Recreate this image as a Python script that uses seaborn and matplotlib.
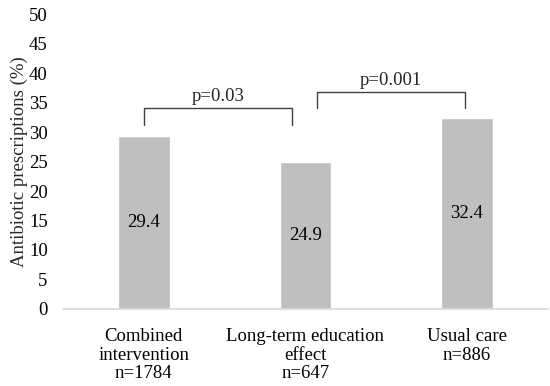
import numpy as np
import pandas as pd
import matplotlib
matplotlib.use('Agg')
import matplotlib.pyplot as plt
import seaborn as sns

# Data
groups = ['Combined\nintervention\nn=1784', 'Long-term education\neffect\nn=647', 'Usual care\nn=886']
values = [29.4, 24.9, 32.4]
y_ticks = list(range(0, 51, 5))

# p-value brackets: (left x, right x, top, leg bottom, label)
brackets = [(0.0, 0.92, 34.1, 31.2, 'p=0.03'), (1.07, 1.99, 36.8, 34.1, 'p=0.001')]

sns.set_style('white')
plt.rcParams['font.family'] = ['Liberation Serif', 'DejaVu Serif']
fs = 13.5

df = pd.DataFrame({'group': groups, 'value': values})

fig = plt.figure(figsize=(5.5, 3.86), dpi=100)
ax = fig.add_axes([0.1145, 0.1995, 0.8815, 0.7642])
sns.barplot(data=df, x='group', y='value', color='#bfbfbf', saturation=1, width=0.32, ax=ax)

for c in ax.containers:
    ax.bar_label(c, labels=[f'{v:.1f}' for v in values], label_type='center', fontsize=fs, color='black')

# brackets
for xl, xr, top, bot, label in brackets:
    ax.plot([xl, xl, xr, xr], [bot, top, top, bot], color='#404040', lw=1)
    ax.text((xl + xr) / 2, top + 0.5, label, ha='center', va='bottom', fontsize=fs)

ax.set_ylim(0, 50)
ax.set_xlim(-0.5, 2.5)
ax.set_yticks(y_ticks)
ax.set_xlabel('')
ax.set_ylabel('Antibiotic prescriptions (%)', fontsize=fs, labelpad=1)
ax.tick_params(axis='both', length=0, labelsize=fs, colors='black')
ax.tick_params(axis='y', pad=11)
ax.tick_params(axis='x', pad=14)
for lbl in ax.get_xticklabels():
    lbl.set_multialignment('center')
    lbl.set_linespacing(1.1)

for s in ['top', 'right', 'left']:
    ax.spines[s].set_visible(False)
ax.spines['bottom'].set_color('#d9d9d9')
ax.spines['bottom'].set_linewidth(1.2)

fig.savefig('out.png', dpi=100)
